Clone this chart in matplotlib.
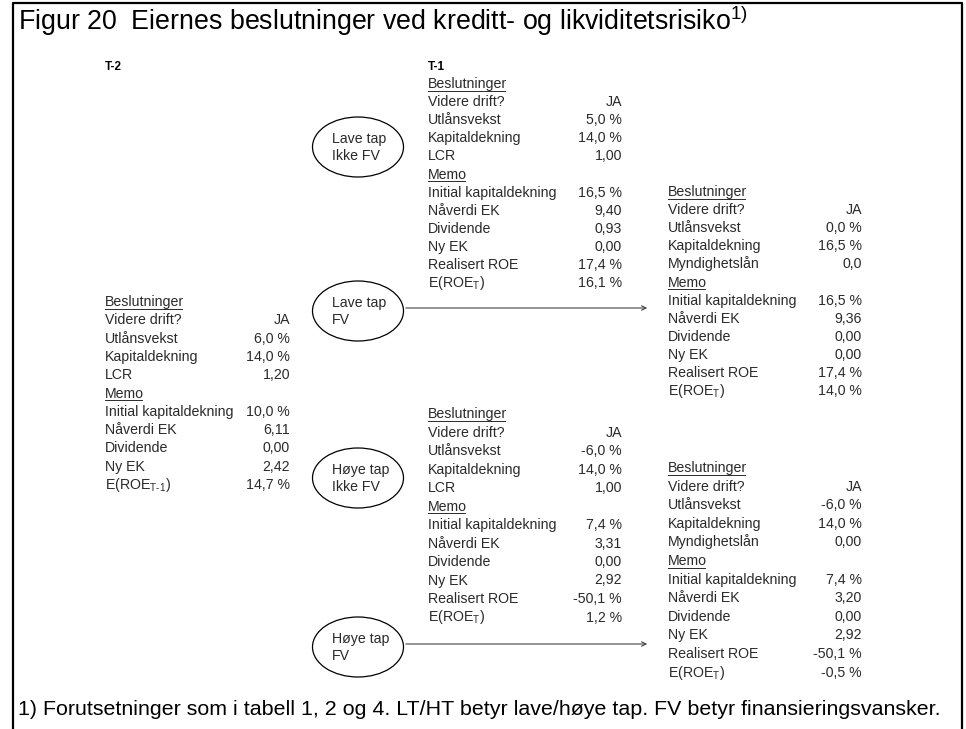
import matplotlib
matplotlib.use("Agg")
import matplotlib.pyplot as plt
from matplotlib.patches import Ellipse

plt.rcParams["font.family"] = ["Liberation Sans", "DejaVu Sans"]
plt.rcParams["mathtext.fontset"] = "custom"
plt.rcParams["mathtext.rm"] = "Liberation Sans"
plt.rcParams["mathtext.it"] = "Liberation Sans:italic"

TITLE = "Figur 20  Eiernes beslutninger ved kreditt- og likviditetsrisiko"
FOOTNOTE = "1) Forutsetninger som i tabell 1, 2 og 4. LT/HT betyr lave/høye tap. FV betyr finansieringsvansker."

# row labels, None value = underlined header
t2_labels = ["Beslutninger", "Videre drift?", "Utlånsvekst", "Kapitaldekning", "LCR",
             "Memo", "Initial kapitaldekning", "Nåverdi EK", "Dividende", "Ny EK",
             r"E(ROE$_{\mathrm{T}\text{-}1}$)"]
t1_labels = ["Beslutninger", "Videre drift?", "Utlånsvekst", "Kapitaldekning", "LCR",
             "Memo", "Initial kapitaldekning", "Nåverdi EK", "Dividende", "Ny EK",
             "Realisert ROE", r"E(ROE$_{\mathrm{T}}$)"]
t_labels = ["Beslutninger", "Videre drift?", "Utlånsvekst", "Kapitaldekning", "Myndighetslån",
            "Memo", "Initial kapitaldekning", "Nåverdi EK", "Dividende", "Ny EK",
            "Realisert ROE", r"E(ROE$_{\mathrm{T}}$)"]

t2_values = [None, "JA", "6,0 %", "14,0 %", "1,20", None, "10,0 %", "6,11", "0,00", "2,42", "14,7 %"]
lt_ikke_fv = [None, "JA", "5,0 %", "14,0 %", "1,00", None, "16,5 %", "9,40", "0,93", "0,00", "17,4 %", "16,1 %"]
lt_fv = [None, "JA", "0,0 %", "16,5 %", "0,0", None, "16,5 %", "9,36", "0,00", "0,00", "17,4 %", "14,0 %"]
ht_ikke_fv = [None, "JA", "-6,0 %", "14,0 %", "1,00", None, "7,4 %", "3,31", "0,00", "2,92", "-50,1 %", "1,2 %"]
ht_fv = [None, "JA", "-6,0 %", "14,0 %", "0,00", None, "7,4 %", "3,20", "0,00", "2,92", "-50,1 %", "-0,5 %"]

scenarios = [("Lave tap", "Ikke FV"), ("Lave tap", "FV"), ("Høye tap", "Ikke FV"), ("Høye tap", "FV")]

TXT = "#2a2a2a"
FS = 10.2

fig = plt.figure(figsize=(9.66, 7.29), dpi=100)
ax = fig.add_axes([0, 0, 1, 1])
ax.set_xlim(0, 966)
ax.set_ylim(729, 0)
ax.axis("off")

# frame
ax.plot([13, 13, 962, 962], [729, 3, 3, 729], color="black", lw=1.6, solid_capstyle="butt")

ax.text(18, 30, TITLE + r"$^{1)}$", fontsize=19.3, color="black", va="baseline")
ax.text(18, 715, FOOTNOTE, fontsize=15.4, color="black", va="baseline")

ax.text(105, 70, "T-2", fontsize=8.5, fontweight="bold", va="baseline")
ax.text(428, 70, "T-1", fontsize=8.5, fontweight="bold", va="baseline")

headers = []


def draw_block(x_lab, x_val, y0, pitch, labels, values):
    for i, (lab, val) in enumerate(zip(labels, values)):
        y = y0 + i * pitch + 4
        t = ax.text(x_lab, y, lab, fontsize=FS, color=TXT, va="baseline")
        if val is None:
            headers.append((t, x_lab, y))
        else:
            ax.text(x_val, y, val, fontsize=FS, color=TXT, va="baseline", ha="right")


draw_block(105, 290, 302, 18.3, t2_labels, t2_values)
draw_block(428, 622, 84, 18.1, t1_labels, lt_ikke_fv)
draw_block(668, 862, 192, 18.1, t_labels, lt_fv)
draw_block(428, 622, 414, 18.5, t1_labels, ht_ikke_fv)
draw_block(668, 862, 468, 18.6, t_labels, ht_fv)

# scenario ellipses
ell_y = [147, 311, 478, 647]
for (l1, l2), yc in zip(scenarios, ell_y):
    ax.add_patch(Ellipse((358, yc), 91, 60, fill=False, edgecolor="black", lw=0.9))
    ax.text(332, yc - 8.5, l1, fontsize=FS, color=TXT, va="center")
    ax.text(332, yc + 9, l2, fontsize=FS, color=TXT, va="center")

for yc in [ell_y[1], ell_y[3]]:
    ax.annotate("", xy=(650, yc - 3), xytext=(403, yc - 3),
                arrowprops=dict(arrowstyle="->", lw=0.8, color="#444444", mutation_scale=8))

# underline the section headers
fig.canvas.draw()
r = fig.canvas.get_renderer()
for t, x, y in headers:
    w = t.get_window_extent(renderer=r).width
    ax.plot([x, x + w - 2], [y + 2.5, y + 2.5], color=TXT, lw=0.7)

fig.savefig("out.png", dpi=100)
